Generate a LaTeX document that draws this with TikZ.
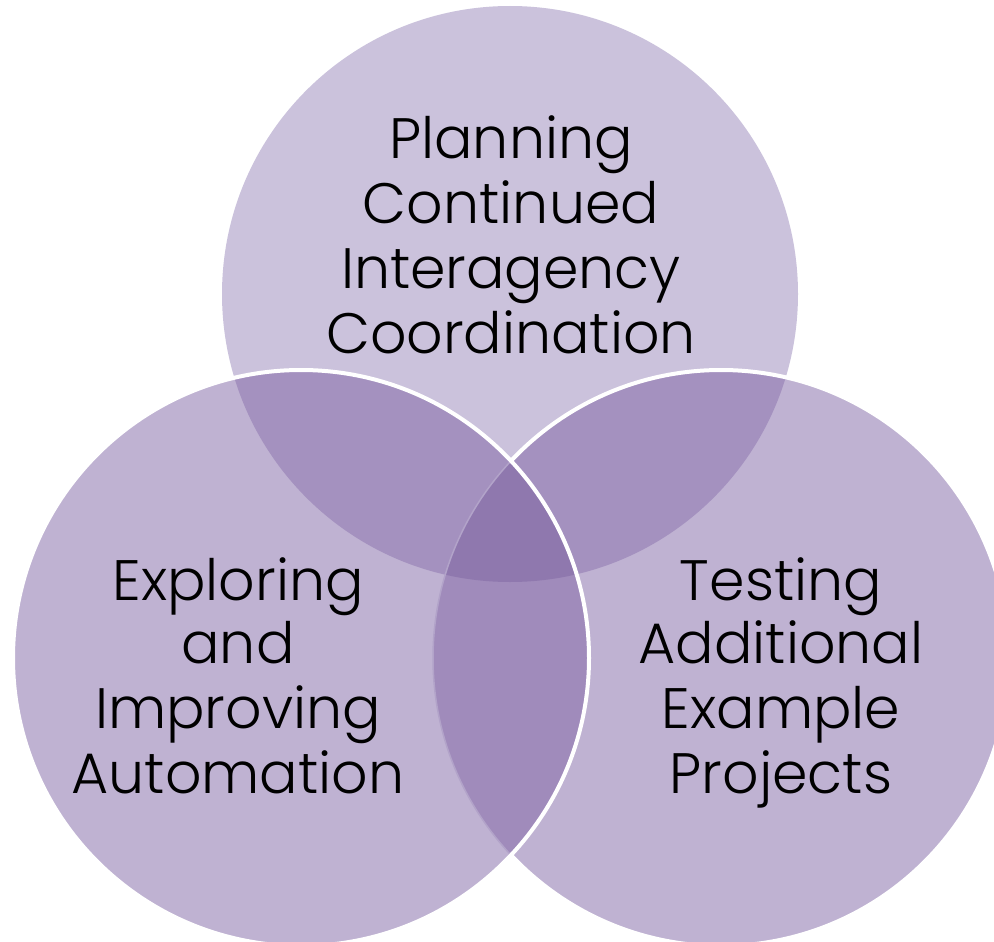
\documentclass[tikz,border=0pt]{standalone}
\usepackage{fontspec}
\setmainfont{Poppins Light}
\definecolor{topc}{HTML}{CBC2DC}
\definecolor{sidec}{HTML}{BFB2D2}
\definecolor{tlc}{HTML}{A491BF}
\definecolor{lrc}{HTML}{A08BBB}
\definecolor{midc}{HTML}{8F78AE}
\definecolor{faintc}{HTML}{B2A3C9}
\begin{document}
\begin{tikzpicture}[x=1pt,y=-1pt,
  lbl/.style={font=\fontsize{57}{65}\selectfont, text=black, inner sep=0pt, anchor=base},
  rim/.style={white, line width=4pt}]
\useasboundingbox (0,0) rectangle (994,942);
\fill[white] (0,0) rectangle (994,942);
\coordinate (T) at (510,294);
\coordinate (L) at (301,658);
\coordinate (R) at (721,658);
\begin{scope}
  \clip (0,0) rectangle (994,942);
  % top circle
  \fill[topc] (T) circle (288pt);
  % right circle
  \fill[sidec] (R) circle (288pt);
  \begin{scope}
    \clip (T) circle (288pt);
    \fill[tlc] (R) circle (288pt);
  \end{scope}
  \draw[rim] (R) circle (288pt);
  % left circle
  \begin{scope}
    \clip (L) circle (288pt);
    \fill[sidec] (L) circle (288pt);
    \begin{scope}
      \clip (T) circle (288pt);
      \fill[tlc] (L) circle (288pt);
    \end{scope}
    \begin{scope}
      \clip (R) circle (288pt);
      \fill[lrc] (L) circle (288pt);
      \clip (T) circle (288pt);
      \fill[midc] (L) circle (288pt);
    \end{scope}
    \draw[faintc, line width=1.5pt] (R) circle (288pt);
  \end{scope}
  \draw[rim] (L) circle (288pt);
\end{scope}
% labels
\node[lbl] (t1) at (511,158) {Planning};
\node[lbl] (t2) at (511,223) {Continued};
\node[lbl] (t3) at (511,288) {Interagency};
\node[lbl] (t4) at (511,353) {Coordination};
\node[lbl] (l1) at (238,600) {Exploring};
\node[lbl] (l2) at (238,663) {and};
\node[lbl] (l3) at (238,728) {Improving};
\node[lbl] (l4) at (238,793) {Automation};
\node[lbl] (r1) at (781,600) {Testing};
\node[lbl] (r2) at (781,663) {Additional};
\node[lbl] (r3) at (781,728) {Example};
\node[lbl] (r4) at (781,793) {Projects};
\end{tikzpicture}
\end{document}
